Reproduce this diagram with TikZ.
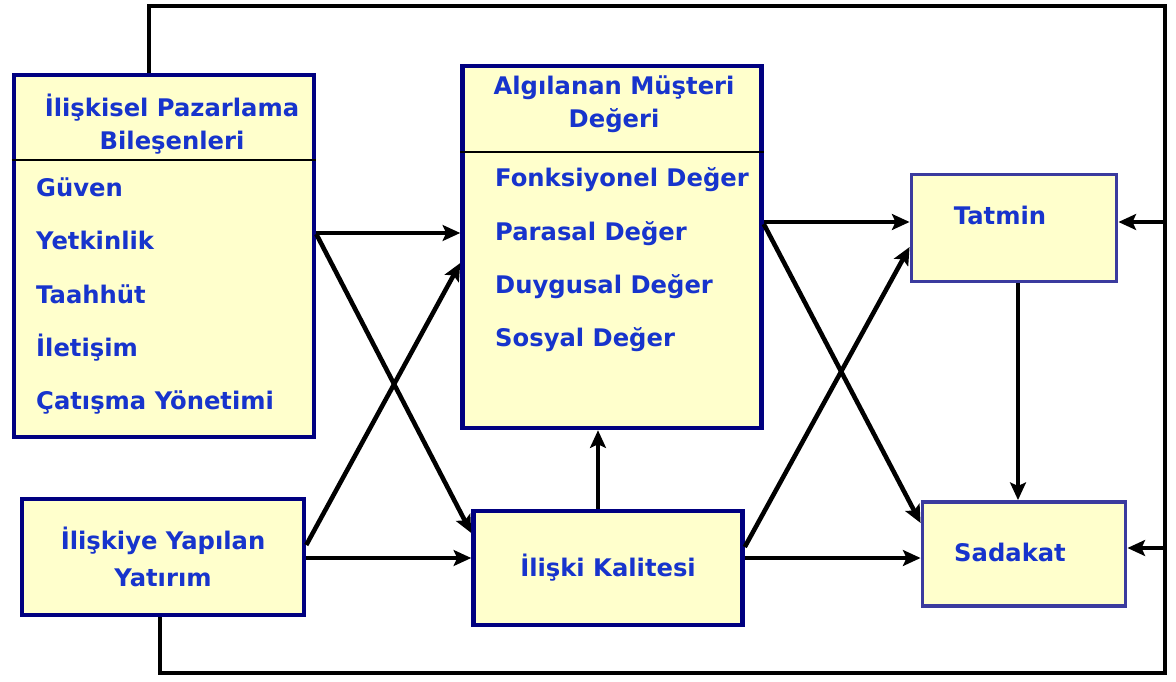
\documentclass[tikz,border=0pt]{standalone}
\usepackage{fontspec}
\setmainfont{DejaVu Sans}
\usepackage{tikz}
\usetikzlibrary{positioning,arrows.meta,calc}
\definecolor{navyline}{HTML}{000080}
\definecolor{slateline}{HTML}{3B3B9E}
\definecolor{paleyellow}{HTML}{FFFFCC}
\definecolor{labelblue}{HTML}{1734CC}

\begin{document}
\begin{tikzpicture}[
    x=0.02cm, y=-0.02cm,
    >=Stealth,
    every node/.style={font=\fontsize{13.8}{19}\selectfont\bfseries, text=labelblue},
    box/.style={draw=navyline, line width=2.6pt, fill=paleyellow, inner sep=0pt},
    smallbox/.style={box, draw=slateline, line width=2.2pt},
    headtext/.style={align=center},
    itemtext/.style={anchor=base west},
    divider/.style={line width=1pt, black},
    flowarrow/.style={-{Stealth[length=10pt,width=9pt,inset=2pt]}, line width=2.6pt, black},
    loopline/.style={line width=2.6pt, black},
]
\useasboundingbox (0,0) rectangle (1176,682);

% ---- Left column ----
\node[box, minimum width=6cm, minimum height=7.24cm] (rm) at (164,256) {};
\node[headtext] (rmtitle) at (172,124) {İlişkisel Pazarlama\\Bileşenleri};
\draw[divider] ($(rm.north west)+(0,87)$) -- ($(rm.north east)+(0,87)$);
\foreach \txt [count=\i] in {Güven, Yetkinlik, Taahhüt, İletişim, Çatışma Yönetimi}
    \node[itemtext] (rmitem\i) at (30, {144+53*\i}) {\txt};

\node[box, minimum width=5.64cm, minimum height=2.32cm, align=center,
      font=\fontsize{13.8}{21}\selectfont\bfseries] (invest) at (163,557) {İlişkiye Yapılan\\Yatırım};

% ---- Middle column ----
\node[box, minimum width=5.98cm, minimum height=7.24cm] (value) at (612,247) {};
\node[headtext] (valuetitle) at (614,104) {Algılanan Müşteri\\Değeri};
\draw[divider] ($(value.north west)+(0,88)$) -- ($(value.north east)+(0,88)$);
\foreach \txt [count=\i] in {Fonksiyonel Değer, Parasal Değer, Duygusal Değer, Sosyal Değer}
    \node[itemtext] (valueitem\i) at (489, {134+53*\i}) {\txt};

\node[box, minimum width=5.38cm, minimum height=2.28cm] (kalite) at (608,568) {İlişki Kalitesi};

% ---- Right column ----
\node[smallbox, minimum width=4.1cm, minimum height=2.14cm] (tatmin) at (1014,228) {};
\node (tatminlabel) at (1000,215) {Tatmin};
\node[smallbox, minimum width=4.06cm, minimum height=2.08cm] (sadakat) at (1024,554) {};
\node (sadakatlabel) at (1010,552) {Sadakat};

% ---- Arrows ----
\draw[flowarrow] ($(rm.east)+(0,-23)$) -- ($(value.west)+(0,-14)$);
\draw[flowarrow] ($(rm.east)+(0,-22)$) -- ($(kalite.west)+(0,-35)$);
\draw[flowarrow] ($(invest.east)+(0,-12)$) -- ($(value.west)+(0,16)$);
\draw[flowarrow] ($(invest.east)+(0,1)$) -- ($(kalite.west)+(0,-10)$);
\draw[flowarrow] ($(kalite.north)+(-10,0)$) -- ($(value.south)+(-14,0)$);

\draw[flowarrow] ($(value.east)+(0,-25)$) -- ($(tatmin.west)+(0,-6)$);
\draw[flowarrow] ($(value.east)+(0,-23)$) -- ($(sadakat.west)+(0,-31)$);
\draw[flowarrow] ($(kalite.east)+(0,-21)$) -- ($(tatmin.west)+(0,19)$);
\draw[flowarrow] ($(kalite.east)+(0,-10)$) -- ($(sadakat.west)+(0,4)$);
\draw[flowarrow] ($(tatmin.south)+(4,0)$) -- ($(sadakat.north)+(-6,0)$);

% ---- Feedback loop ----
\coordinate (looptop) at (1165,6);
\coordinate (loopbottom) at (1165,673);
\draw[loopline] ($(rm.north)+(-15,0)$) |- (looptop) -- (loopbottom) -| ($(invest.south)+(-3,0)$);

\coordinate (tatminin) at ($(tatmin.east)+(0,-6)$);
\coordinate (sadakatin) at ($(sadakat.east)+(0,-6)$);
\draw[flowarrow] (looptop |- tatminin) -- (tatminin);
\draw[flowarrow] (looptop |- sadakatin) -- (sadakatin);

\end{tikzpicture}
\end{document}
